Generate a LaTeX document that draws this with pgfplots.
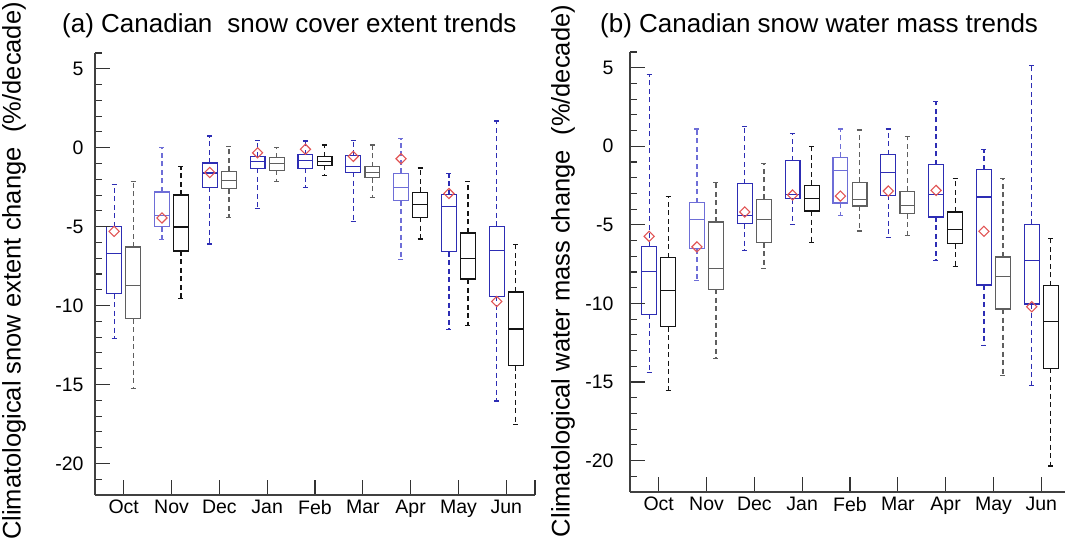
\documentclass[border=0pt]{standalone}
\usepackage{fontspec}
\setmainfont{Liberation Sans}
\usepackage{pgfplots}
\pgfplotsset{compat=1.18}
\usepgfplotslibrary{statistics}

\definecolor{bxblue}{RGB}{45,45,180}
\definecolor{bxlblue}{RGB}{110,110,215}
\definecolor{bxblack}{RGB}{20,20,20}
\definecolor{bxgray}{RGB}{95,95,95}
\definecolor{mnred}{RGB}{225,85,85}

\newcommand{\bx}[7]{\addplot[#1, line width=1.2pt, boxplot prepared={draw direction=y, draw position=#2, lower whisker=#3, lower quartile=#4, median=#5, upper quartile=#6, upper whisker=#7, box extend=0.31, whisker extend=0.11}] coordinates {};}

\pgfplotsset{
  geom/.style={scale only axis, xmin=0.4, xmax=9.6, ymin=-22, ymax=6},
  dataax/.style={geom, hide axis,
    boxplot/every whisker/.style={dash pattern=on 5pt off 3.5pt}},
  frameax/.style={
    geom,
    axis x line*=bottom, axis y line*=left,
    axis line style={-, line width=1.2pt, black!75},
    xtick align=inside, ytick align=inside,
    every tick/.append style={black!80, line width=1.1pt},
    major tick length=15pt,
    minor tick length=7pt,
    xtick={1,...,9},
    xticklabels={Oct,Nov,Dec,Jan,Feb,Mar,Apr,May,Jun},
    ytick={-20,-15,-10,-5,0,5},
    yticklabels={-20,-15,-10,-5,0,5},
    minor ytick={-22,-21,...,6},
    tick label style={font=\fontsize{19.5}{21}\selectfont},
    xticklabel style={yshift=-1.5pt},
  },
  meanmark/.style={only marks, mark=square, mark size=3.6pt, mnred,
    mark options={rotate=45, line width=1.1pt, solid}},
}

\begin{document}
\begin{tikzpicture}

% ---------- (a) data ----------
\begin{axis}[dataax, at={(95pt,48pt)}, anchor=south west, width=440pt, height=442pt]
\bx{bxblue}{0.8}{-12.1}{-9.25}{-6.7}{-5.0}{-2.33}
\bx{bxlblue}{1.8}{-5.82}{-5.0}{-4.3}{-2.8}{0.0}
\bx{bxblue}{2.8}{-6.1}{-2.5}{-1.6}{-0.97}{0.74}
\bx{bxblue}{3.8}{-3.85}{-1.31}{-0.89}{-0.57}{0.48}
\bx{bxblue}{4.8}{-2.54}{-1.31}{-0.8}{-0.45}{0.42}
\bx{bxblue}{5.8}{-4.66}{-1.55}{-1.21}{-0.49}{0.48}
\bx{bxlblue}{6.8}{-7.09}{-3.35}{-2.5}{-1.63}{0.57}
\bx{bxblue}{7.8}{-11.5}{-6.6}{-3.7}{-2.97}{-1.63}
\bx{bxblue}{8.8}{-16.04}{-9.42}{-6.52}{-4.98}{1.69}
\bx{bxgray}{1.2}{-15.24}{-10.84}{-8.72}{-6.29}{-2.12}
\bx{bxblack}{2.2}{-9.55}{-6.54}{-5.02}{-3.0}{-1.21}
\bx{bxgray}{3.2}{-4.4}{-2.6}{-2.06}{-1.5}{0.06}
\bx{bxgray}{4.2}{-2.16}{-1.42}{-1.0}{-0.64}{0.0}
\bx{bxblack}{5.2}{-1.74}{-1.12}{-0.85}{-0.57}{0.17}
\bx{bxgray}{6.2}{-3.17}{-1.9}{-1.55}{-1.21}{0.17}
\bx{bxblack}{7.2}{-5.78}{-4.4}{-3.6}{-2.82}{-1.29}
\bx{bxblack}{8.2}{-11.28}{-8.32}{-7.03}{-5.4}{-2.12}
\bx{bxblack}{9.2}{-17.52}{-13.82}{-11.49}{-9.14}{-6.14}
\addplot[meanmark] coordinates {(0.8,-5.3) (1.8,-4.45) (2.8,-1.57) (3.8,-0.32) (4.8,-0.1) (5.8,-0.55) (6.8,-0.7) (7.8,-2.9) (8.8,-9.74)};
\end{axis}
% ---------- (a) frame ----------
\begin{axis}[frameax, at={(95pt,48pt)}, anchor=south west, width=440pt, height=442pt,
  extra x ticks={9.6}, extra x tick labels={},
  yticklabel style={xshift=-8pt}]
\end{axis}

% ---------- (b) data ----------
\begin{axis}[dataax, at={(630pt,51pt)}, anchor=south west, width=440pt, height=440pt]
\bx{bxblue}{0.8}{-14.39}{-10.7}{-7.97}{-6.4}{4.55}
\bx{bxlblue}{1.8}{-8.56}{-6.53}{-4.67}{-3.59}{1.1}
\bx{bxblue}{2.8}{-6.61}{-4.92}{-4.39}{-2.39}{1.25}
\bx{bxblue}{3.8}{-4.97}{-3.34}{-3.06}{-0.91}{0.83}
\bx{bxlblue}{4.8}{-4.39}{-3.61}{-1.54}{-0.7}{1.1}
\bx{bxblue}{5.8}{-5.81}{-3.13}{-1.69}{-0.53}{1.1}
\bx{bxblue}{6.8}{-7.25}{-4.5}{-3.08}{-1.18}{2.83}
\bx{bxblue}{7.8}{-12.7}{-8.83}{-3.23}{-1.48}{-0.21}
\bx{bxblue}{8.8}{-15.22}{-10.04}{-7.25}{-4.97}{5.12}
\bx{bxblack}{1.2}{-15.53}{-11.48}{-9.19}{-7.08}{-3.2}
\bx{bxgray}{2.2}{-13.48}{-9.09}{-7.78}{-4.82}{-2.3}
\bx{bxgray}{3.2}{-7.78}{-6.13}{-4.67}{-3.38}{-1.12}
\bx{bxblack}{4.2}{-6.13}{-4.12}{-3.34}{-2.49}{0.0}
\bx{bxgray}{5.2}{-5.39}{-3.8}{-3.38}{-2.3}{1.04}
\bx{bxgray}{6.2}{-5.66}{-4.29}{-3.76}{-2.87}{0.62}
\bx{bxblack}{7.2}{-7.67}{-6.19}{-5.3}{-4.18}{-2.07}
\bx{bxgray}{8.2}{-14.58}{-10.36}{-8.3}{-7.04}{-2.07}
\bx{bxblack}{9.2}{-20.35}{-14.12}{-11.16}{-8.88}{-5.87}
\addplot[meanmark] coordinates {(0.8,-5.73) (1.8,-6.4) (2.8,-4.18) (3.8,-3.1) (4.8,-3.17) (5.8,-2.85) (6.8,-2.81) (7.8,-5.41) (8.8,-10.21)};
\end{axis}
% ---------- (b) frame ----------
\begin{axis}[frameax, at={(630pt,51pt)}, anchor=south west, width=440pt, height=440pt,
  yticklabel style={xshift=-13pt}]
\end{axis}

% titles and axis labels
\node[anchor=base west, inner sep=0, font=\fontsize{26}{28}\selectfont] at (62pt,510pt) {(a) Canadian\hspace{0.3em} snow cover extent trends};
\node[anchor=base west, inner sep=0, font=\fontsize{26}{28}\selectfont] at (600pt,510pt) {(b) Canadian snow water mass trends};
\node[rotate=90, inner sep=0, font=\fontsize{25.5}{27}\selectfont] at (14pt,272pt) {Climatological snow extent change\hspace{0.3em} (\%/decade)};
\node[rotate=90, inner sep=0, font=\fontsize{25.5}{27}\selectfont] at (563pt,272pt) {Climatological water mass change\hspace{0.3em} (\%/decade)};

\pgfresetboundingbox
\path[use as bounding box] (0,0) rectangle (1065pt,543pt);
\end{tikzpicture}
\end{document}
